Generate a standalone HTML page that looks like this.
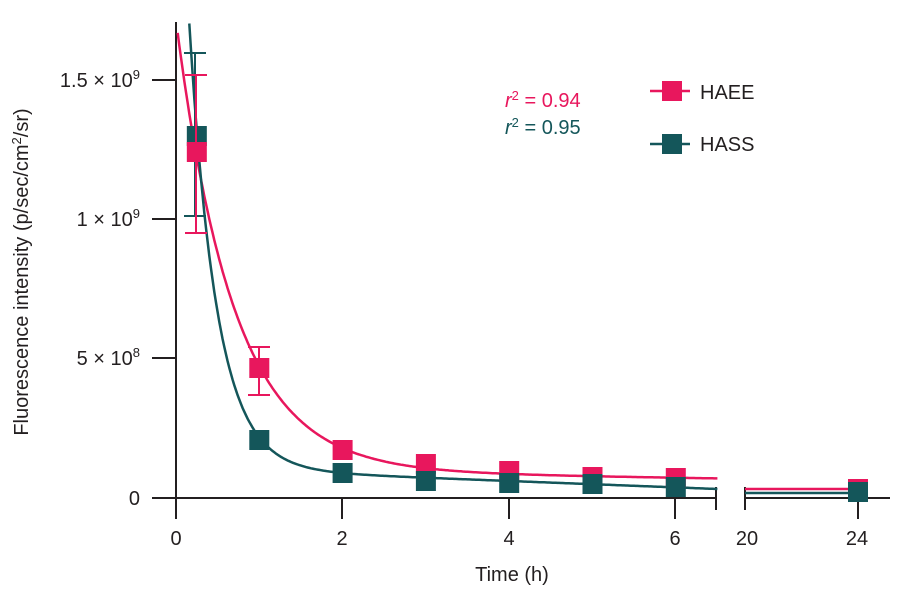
<!DOCTYPE html><html><head><style>body{margin:0;background:#fff}svg{font-family:"Liberation Sans",Arial,sans-serif}</style></head><body>
<svg id="s" width="907" height="590" xmlns="http://www.w3.org/2000/svg">
<g stroke="#231f20" stroke-width="2" fill="none">
<line x1="176" y1="22" x2="176" y2="499"/>
<line x1="175" y1="498" x2="716" y2="498"/>
<line x1="745" y1="498" x2="890" y2="498"/>
<line x1="716" y1="487" x2="716" y2="510"/>
<line x1="745" y1="487" x2="745" y2="510"/>
<line x1="152" y1="498" x2="176" y2="498"/>
<line x1="152" y1="358" x2="176" y2="358"/>
<line x1="152" y1="219" x2="176" y2="219"/>
<line x1="152" y1="80" x2="176" y2="80"/>
<line x1="176" y1="498" x2="176" y2="519"/>
<line x1="342" y1="498" x2="342" y2="519"/>
<line x1="509" y1="498" x2="509" y2="519"/>
<line x1="675" y1="498" x2="675" y2="519"/>
<line x1="858" y1="498" x2="858" y2="519"/>
</g>
<g font-size="20" fill="#231f20">
<text x="140" y="505" text-anchor="end">0</text>
<text x="140" y="365" text-anchor="end">5 × 10<tspan font-size="13" dy="-8">8</tspan></text>
<text x="140" y="226" text-anchor="end">1 × 10<tspan font-size="13" dy="-8">9</tspan></text>
<text x="140" y="87" text-anchor="end">1.5 × 10<tspan font-size="13" dy="-8">9</tspan></text>
<g text-anchor="middle"><text x="176" y="545">0</text><text x="342" y="545">2</text><text x="509" y="545">4</text><text x="675" y="545">6</text><text x="747" y="545">20</text><text x="857" y="545">24</text>
<text x="512" y="581">Time (h)</text></g>
<text transform="translate(28,272) rotate(-90)" text-anchor="middle">Fluorescence intensity (p/sec/cm<tspan font-size="13" dy="-7">2</tspan><tspan dy="7">/sr)</tspan></text>
<text x="505" y="107" fill="#e8175d"><tspan font-style="italic">r</tspan><tspan font-size="13" dy="-7">2</tspan><tspan dy="7"> = 0.94</tspan></text>
<text x="505" y="134" fill="#14565a"><tspan font-style="italic">r</tspan><tspan font-size="13" dy="-7">2</tspan><tspan dy="7"> = 0.95</tspan></text>
<text x="700" y="99">HAEE</text><text x="700" y="151">HASS</text>
</g>
<line x1="650" y1="91" x2="690" y2="91" stroke="#e8175d" stroke-width="2.5"/><rect x="662" y="81" width="20" height="20" fill="#e8175d"/>
<line x1="650" y1="144" x2="690" y2="144" stroke="#14565a" stroke-width="2.5"/><rect x="662" y="134" width="20" height="20" fill="#14565a"/>
<g id="g"></g>
</svg>
<script>
var ns="http://www.w3.org/2000/svg",g=document.getElementById('g');
function X(t){return 176+t*83.3}
function el(n,a){var e=document.createElementNS(ns,n);for(var k in a)e.setAttribute(k,a[k]);g.appendChild(e);return e}
var P="#e8175d",T="#14565a";
function curve(f,t0,c){var d="";for(var t=t0;t<=6.5;t+=0.02){var y=f(t);if(y<22){continue}d+=(d?"L":"M")+X(t).toFixed(1)+","+y.toFixed(1)}el('path',{d:d,stroke:c,'stroke-width':2.5,fill:'none'})}
curve(function(t){return 498-(450*Math.exp(-1.455*t)+28-1.3*t)},0,P);
curve(function(t){return 498-(338*Math.exp(-3.06*(t-0.25))+29.8-3.2*t)},0.1,T);
el('line',{x1:745,y1:489,x2:858,y2:489,stroke:P,'stroke-width':2.5});
el('line',{x1:745,y1:493,x2:858,y2:493,stroke:T,'stroke-width':2.5});
function eb(x,y1,y2,c){el('line',{x1:x,y1:y1,x2:x,y2:y2,stroke:c,'stroke-width':2});el('line',{x1:x-11,y1:y1,x2:x+11,y2:y1,stroke:c,'stroke-width':2});el('line',{x1:x-11,y1:y2,x2:x+11,y2:y2,stroke:c,'stroke-width':2})}
eb(195,53,216,T);eb(196,75,233,P);eb(259,347,395,P);
function m(t,y,c){el('rect',{x:X(t)-10,y:y-10,width:20,height:20,fill:c})}
m(0.25,136,T);
var hp=[[0.25,152],[1,368],[2,450],[3,464],[4,471],[5,477],[6,478]];
var ht=[[1,440],[2,473],[3,481],[4,483],[5,484],[6,487]];
hp.forEach(function(p){m(p[0],p[1],P)});ht.forEach(function(p){m(p[0],p[1],T)});
el('rect',{x:848,y:479,width:20,height:20,fill:P});el('rect',{x:848,y:482,width:20,height:20,fill:T});
eb(196,75,233,P);
</script>
</body></html>
